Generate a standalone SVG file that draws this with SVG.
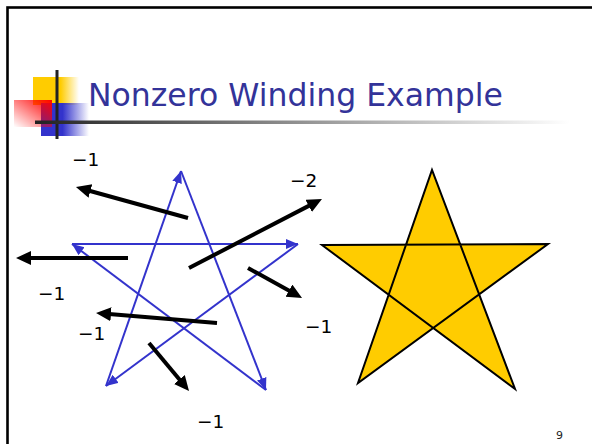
<svg xmlns="http://www.w3.org/2000/svg" width="592" height="444" viewBox="0 0 592 444">
<defs>
<style>
.lbl{font-family:"DejaVu Sans",Verdana,sans-serif;font-size:18.5px;fill:#000}
.blue{stroke:#3333CC;stroke-width:2;fill:none;marker-end:url(#bh)}
.blk{stroke:#000;stroke-width:4;fill:none;marker-end:url(#kh)}
</style>
<marker id="bh" markerUnits="userSpaceOnUse" markerWidth="14" markerHeight="12" refX="12" refY="5" orient="auto"><path d="M0,0 L12,5 L0,10 z" fill="#3333CC"/></marker>
<marker id="kh" markerUnits="userSpaceOnUse" markerWidth="18" markerHeight="16" refX="5" refY="7" orient="auto"><path d="M0,0 L15,7 L0,14 z" fill="#000"/></marker>
<linearGradient id="gy" x1="0" y1="0" x2="1" y2="0"><stop offset="0.6" stop-color="#FFCC00"/><stop offset="1" stop-color="#FFCC00" stop-opacity="0"/></linearGradient>
<linearGradient id="gb" x1="0" y1="0" x2="1" y2="0"><stop offset="0.45" stop-color="#3333CC"/><stop offset="1" stop-color="#3333CC" stop-opacity="0"/></linearGradient>
<linearGradient id="gr" x1="1" y1="0" x2="0" y2="1"><stop offset="0" stop-color="#FF0000"/><stop offset="1" stop-color="#FF0000" stop-opacity="0"/></linearGradient>
<linearGradient id="gl" x1="35" y1="0" x2="570" y2="0" gradientUnits="userSpaceOnUse"><stop offset="0" stop-color="#222"/><stop offset="0.45" stop-color="#888"/><stop offset="1" stop-color="#fff"/></linearGradient>
</defs>
<rect x="0" y="0" width="592" height="444" fill="#fff"/>
<rect x="7.5" y="7.5" width="640" height="500" fill="none" stroke="#000" stroke-width="2.6"/>
<g id="logo">
<rect x="33" y="77" width="46" height="28" fill="url(#gy)"/>
<rect x="41" y="103" width="48" height="33" fill="url(#gb)"/>
<rect x="14" y="100" width="38" height="27" fill="url(#gr)"/>
<rect x="55.5" y="70" width="3" height="69" fill="#222"/>
<rect x="35" y="120.5" width="540" height="3.5" fill="url(#gl)"/>
</g>
<g id="title"><text x="88" y="106" font-family="DejaVu Sans,Verdana,sans-serif" font-size="31.5" fill="#333399">Nonzero Winding Example</text></g>
<g id="blue-star">
<line class="blue" x1="72" y1="244" x2="298" y2="244"/>
<line class="blue" x1="298" y1="244" x2="106" y2="386"/>
<line class="blue" x1="106" y1="386" x2="181" y2="171"/>
<line class="blue" x1="181" y1="171" x2="266" y2="390"/>
<line class="blue" x1="266" y1="390" x2="72" y2="244"/>
</g>
<g id="connectors">
<line class="blk" x1="188" y1="218" x2="85.6" y2="189.7"/>
<line class="blk" x1="128" y1="258" x2="26" y2="258"/>
<line class="blk" x1="189" y1="268" x2="313.1" y2="203.6"/>
<line class="blk" x1="248" y1="268" x2="293.3" y2="293.1"/>
<line class="blk" x1="217" y1="323" x2="106" y2="313.8"/>
<line class="blk" x1="149" y1="343" x2="182.6" y2="383.3"/>
</g>
<g id="labels">
<text class="lbl" x="72" y="166">−1</text>
<text class="lbl" x="290" y="187">−2</text>
<text class="lbl" x="38" y="300">−1</text>
<text class="lbl" x="78" y="340">−1</text>
<text class="lbl" x="305" y="333">−1</text>
<text class="lbl" x="197" y="428">−1</text>
</g>
<g id="yellow-star">
<path d="M322,245 L548,244 L358,383 L432,170 L515,389 Z" fill="#FFCC00" fill-rule="nonzero" stroke="#000" stroke-width="2" stroke-linejoin="miter"/>
</g>
<g id="page"><text x="556" y="439" font-family="DejaVu Sans,Verdana,sans-serif" font-size="11" fill="#222">9</text></g>
</svg>
